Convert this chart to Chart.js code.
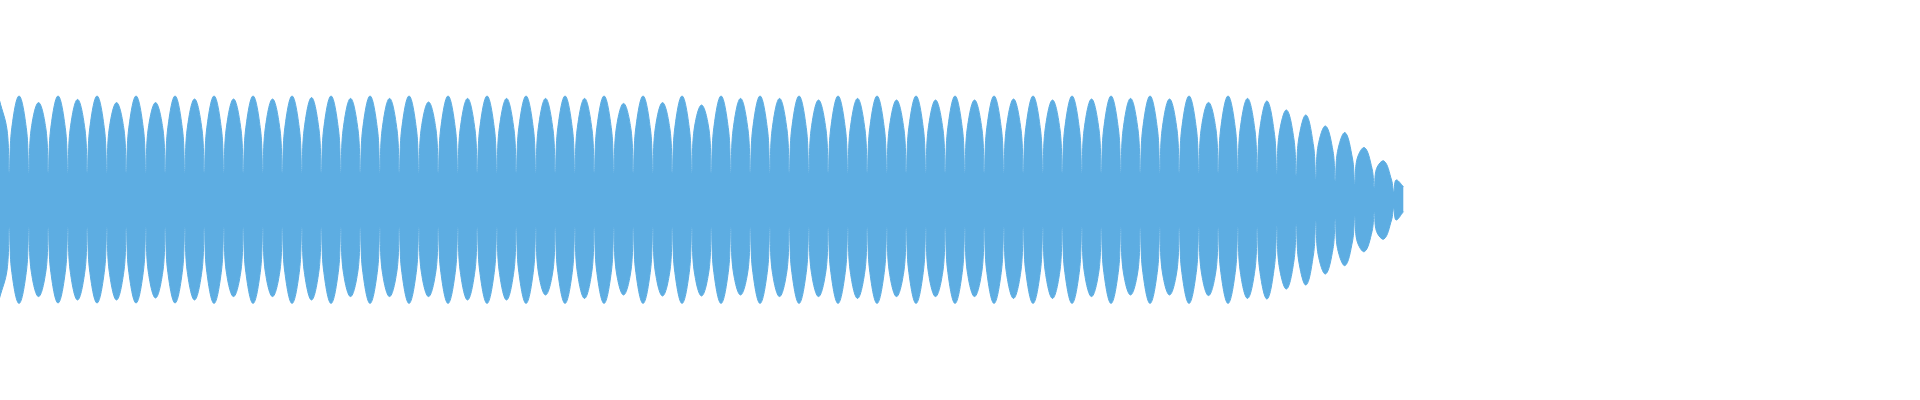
<!DOCTYPE html>
<html>
<head>
<meta charset="utf-8">
<script src="https://cdn.jsdelivr.net/npm/chart.js@4/dist/chart.umd.min.js"></script>
<style>
  html, body { margin: 0; padding: 0; background: #fff; }
  #wrap { width: 1920px; height: 400px; position: relative; }
</style>
</head>
<body>
<div id="wrap"><canvas id="wave"></canvas></div>
<script>
// Envelope of the waveform, read lobe by lobe (amplitude, full scale = 1)
const lobeTop = [
  0.497, 0.52, 0.487, 0.52, 0.503, 0.52, 0.487, 0.52, 0.487, 0.52,
  0.505, 0.52, 0.505, 0.52, 0.505, 0.52, 0.512, 0.52, 0.508, 0.52,
  0.508, 0.52, 0.49, 0.52, 0.508, 0.52, 0.508, 0.52, 0.508, 0.52,
  0.508, 0.52, 0.483, 0.52, 0.487, 0.52, 0.475, 0.52, 0.508, 0.52,
  0.508, 0.52, 0.5, 0.52, 0.508, 0.52, 0.5, 0.52, 0.5, 0.52,
  0.5, 0.52, 0.505, 0.52, 0.5, 0.52, 0.505, 0.52, 0.508, 0.52,
  0.505, 0.52, 0.488, 0.52, 0.508, 0.495, 0.45, 0.425, 0.37, 0.337,
  0.262, 0.195, 0.067
];
const lobeBottom = [
  0.49, 0.517, 0.483, 0.515, 0.5, 0.515, 0.5, 0.515, 0.49, 0.515,
  0.5, 0.517, 0.483, 0.517, 0.483, 0.517, 0.5, 0.517, 0.483, 0.517,
  0.483, 0.517, 0.483, 0.517, 0.5, 0.517, 0.5, 0.517, 0.475, 0.517,
  0.492, 0.517, 0.475, 0.517, 0.48, 0.517, 0.48, 0.517, 0.475, 0.517,
  0.483, 0.517, 0.483, 0.517, 0.492, 0.517, 0.483, 0.517, 0.483, 0.517,
  0.483, 0.517, 0.492, 0.517, 0.492, 0.517, 0.483, 0.517, 0.475, 0.517,
  0.475, 0.517, 0.478, 0.517, 0.492, 0.495, 0.445, 0.425, 0.37, 0.328,
  0.258, 0.195, 0.058
];
// lobe flank just before / after each waist
const shoulder = [
  0.35, 0.35, 0.35, 0.35, 0.35, 0.35, 0.35, 0.35, 0.35, 0.35,
  0.35, 0.35, 0.35, 0.35, 0.35, 0.35, 0.35, 0.35, 0.35, 0.35,
  0.35, 0.35, 0.35, 0.35, 0.35, 0.35, 0.35, 0.35, 0.35, 0.35,
  0.35, 0.35, 0.35, 0.35, 0.35, 0.35, 0.35, 0.35, 0.35, 0.35,
  0.35, 0.35, 0.35, 0.35, 0.35, 0.35, 0.35, 0.35, 0.35, 0.35,
  0.35, 0.35, 0.35, 0.35, 0.35, 0.35, 0.35, 0.35, 0.35, 0.35,
  0.35, 0.35, 0.35, 0.35, 0.345, 0.327, 0.3, 0.27, 0.243, 0.205,
  0.157, 0.1
];
// narrow waist between two lobes
const waist = [
  0.135, 0.135, 0.135, 0.135, 0.135, 0.135, 0.135, 0.135, 0.135, 0.135,
  0.135, 0.135, 0.135, 0.135, 0.135, 0.135, 0.135, 0.135, 0.135, 0.135,
  0.135, 0.135, 0.135, 0.135, 0.135, 0.135, 0.135, 0.135, 0.135, 0.135,
  0.135, 0.135, 0.135, 0.135, 0.135, 0.135, 0.135, 0.135, 0.135, 0.135,
  0.135, 0.135, 0.135, 0.135, 0.135, 0.135, 0.135, 0.135, 0.135, 0.135,
  0.135, 0.135, 0.135, 0.135, 0.135, 0.135, 0.135, 0.135, 0.135, 0.135,
  0.135, 0.135, 0.135, 0.135, 0.135, 0.133, 0.12, 0.108, 0.098, 0.082,
  0.063, 0.042
];

const waveColor = '#5dade2';
const flank = 0.23; // shoulder distance from the waist, in half-lobe units

// peaks on even half-steps, waists on odd ones
function envelope(peaks, sign) {
  const pts = [];
  peaks.forEach((v, k) => {
    pts.push({ x: 2 * k, y: sign * v });
    if (k < waist.length) {
      pts.push({ x: 2 * k + 1 - flank, y: sign * shoulder[k] });
      pts.push({ x: 2 * k + 1, y: sign * waist[k] });
      pts.push({ x: 2 * k + 1 + flank, y: sign * shoulder[k] });
    }
  });
  return pts;
}

new Chart(document.getElementById('wave'), {
  type: 'line',
  data: {
    datasets: [
      {
        data: envelope(lobeTop, 1),
        fill: '+1',
        backgroundColor: waveColor,
        borderColor: waveColor,
        borderWidth: 1,
        tension: 0.4
      },
      {
        data: envelope(lobeBottom, -1),
        fill: false,
        backgroundColor: waveColor,
        borderColor: waveColor,
        borderWidth: 1,
        tension: 0.4
      }
    ]
  },
  options: {
    responsive: true,
    maintainAspectRatio: false,
    animation: false,
    layout: { padding: 0 },
    elements: { point: { radius: 0 } },
    plugins: { legend: { display: false }, tooltip: { enabled: false } },
    scales: {
      x: { type: 'linear', display: false, min: 0.046, max: 196.97 },
      y: { display: false, min: -1, max: 1 }
    }
  }
});
</script>
</body>
</html>
